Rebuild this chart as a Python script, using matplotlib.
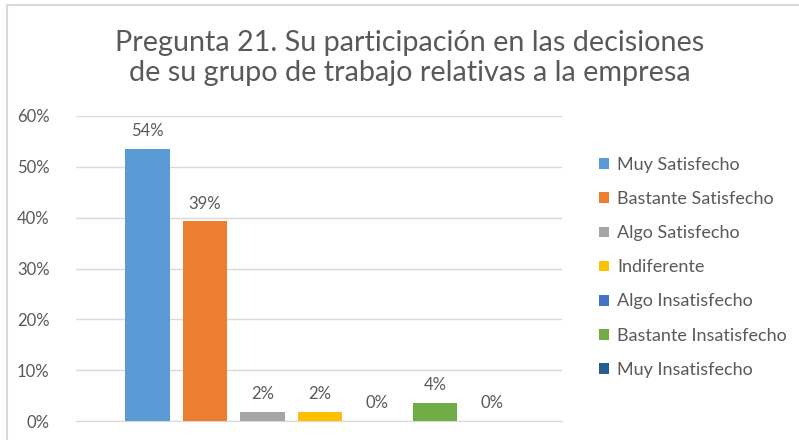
import numpy as np
import matplotlib.pyplot as plt
from matplotlib.patches import Rectangle

plt.rcParams['font.family'] = ['Lato', 'DejaVu Sans']

categorias = ["Muy Satisfecho", "Bastante Satisfecho", "Algo Satisfecho", "Indiferente",
              "Algo Insatisfecho", "Bastante Insatisfecho", "Muy Insatisfecho"]
valores = [53.6, 39.3, 1.8, 1.8, 0.0, 3.5, 0.0]
etiquetas = ["54%", "39%", "2%", "2%", "0%", "4%", "0%"]
colores = ["#5B9BD5", "#ED7D31", "#A5A5A5", "#FFC000", "#4472C4", "#70AD47", "#255E91"]
ticks_y = [0, 10, 20, 30, 40, 50, 60]

fig = plt.figure(figsize=(7.99, 4.4), dpi=100)
ax = fig.add_axes([76 / 799, 1 - 421 / 440, 486 / 799, 305 / 440])

gris = "#595959"
x = np.arange(len(categorias))
for i in range(len(categorias)):
    ax.bar(x[i], valores[i], width=0.78, color=colores[i], label=categorias[i], zorder=3)
    ax.annotate(etiquetas[i], (x[i], valores[i]), xytext=(0, 7), textcoords="offset points",
                ha="center", va="bottom", fontsize=12, color=gris)

ax.set_xlim(-1.243, 7.209)
ax.set_ylim(0, 60)
ax.set_yticks(ticks_y)
ax.set_yticklabels([f"{t}%" for t in ticks_y])
ax.set_xticks([])
ax.yaxis.grid(True, color="#D9D9D9", linewidth=1, zorder=0)
for s in ["top", "right", "left"]:
    ax.spines[s].set_visible(False)
ax.spines["bottom"].set_color("#D9D9D9")
ax.tick_params(axis="y", length=0, labelsize=12, labelcolor=gris, pad=19)

fig.text(0.513, 1 - 58 / 440, "Pregunta 21. Su participación en las decisiones\nde su grupo de trabajo relativas a la empresa",
         ha="center", va="center", fontsize=20.7, color=gris, linespacing=1.22)

leg = ax.legend(loc="upper left", bbox_to_anchor=(583 / 799, 1 - 141 / 440),
                bbox_transform=fig.transFigure, frameon=False, fontsize=13,
                handlelength=0.55, handleheight=0.55, handletextpad=0.45, labelspacing=1.0)
for t in leg.get_texts():
    t.set_color(gris)

fig.patches.append(Rectangle((7 / 799, -0.1), 1.2, 1.1 - 5 / 440,
                             transform=fig.transFigure, fill=False,
                             edgecolor="#D9D9D9", linewidth=1.5))

fig.savefig("out.png", dpi=100)
